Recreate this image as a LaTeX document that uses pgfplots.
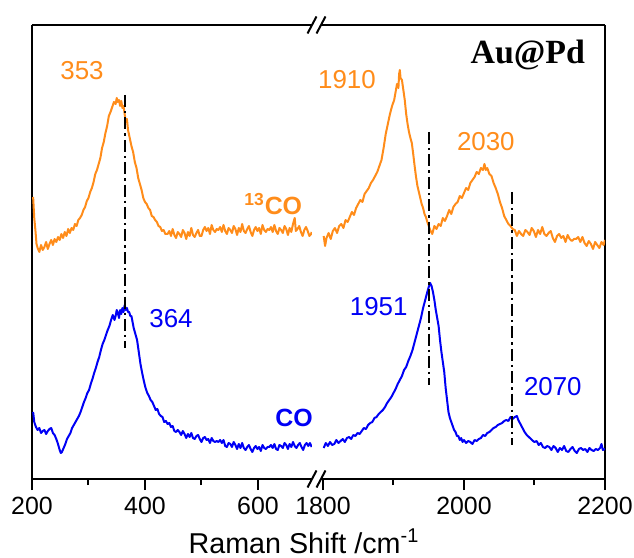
\documentclass[border=0pt]{standalone}
\usepackage{pgfplots}
\pgfplotsset{compat=1.18}
\usepackage{fontspec}
\setmainfont{Liberation Sans}
\newfontfamily\timesfont{Liberation Serif}
\definecolor{myorange}{RGB}{255,140,26}
\definecolor{myblue}{RGB}{0,0,245}
\pgfplotsset{
  brk/.style={
    scale only axis, height=227bp, ymin=9, ymax=463, ytick=\empty,
    axis x line*=bottom, tick align=outside,
    clip mode=individual,
    axis line style={line width=1bp, black},
    major tick length=5.5bp, minor tick length=3bp,
    every tick/.style={black, line width=1bp},
    ticklabel style={font=\fontsize{12.5}{15}\selectfont},
    /pgf/number format/1000 sep={},
    /pgf/number format/assume math mode=true,
    every axis plot/.append style={line width=1bp, line join=round},
  },
  ddot/.style={black, line width=1bp, dash pattern=on 6bp off 2bp on 1.2bp off 2bp},
}
\begin{document}
\begin{tikzpicture}
\useasboundingbox (-16bp,-39.5bp) rectangle (301bp,239.5bp);
% ---------------- left part ----------------
\begin{axis}[brk, width=140bp, xmin=200, xmax=695.6, axis y line*=left,
  xtick={200,400,600}, minor xtick={300,500}, at={(0,0)}, anchor=south west]
\addplot[myorange] coordinates {
(202,291)(204,270)(206,258)(208,244)
(210,240)(213,236)(216,243)(219,238)(222,241)(225,246)(228,239)(231,244)(234,248)(237,243)
(240,249)(243,246)(246,251)(249,248)(252,254)(255,250)(258,256)(261,252)(264,259)(267,255)
(270,260)(273,258)(276,264)(279,262)(282,268)(285,270)(288,273)(291,278)(294,281)(297,287)
(300,290)(303,296)(306,300)(309,306)(312,314)(315,318)(318,324)(321,330)(324,340)(327,346)
(330,355)(333,362)(336,372)(339,376)(342,381)(345,386)(348,384)(350,390)(352,386)(354,388)
(356,382)(358,387)(360,380)(362,382)(364,374)(366,366)(368,369)(370,358)(373,350)(376,342)
(379,336)(382,326)(385,320)(388,310)(391,304)(394,298)(397,290)(400,286)(403,284)(406,280)
(409,278)(412,272)(415,271)(418,268)(421,266)(424,262)(427,261)(430,257)(433,258)(436,254)
(440,254)(443,257)(446,252)(449,259)(452,253)(455,250)(458,256)(461,254)(464,251)(467,258)
(470,255)(473,249)(476,256)(479,252)(482,260)(485,253)(488,251)(491,255)(494,258)(497,252)
(500,252)(503,258)(506,261)(509,257)(512,260)(515,254)(518,263)(521,258)(524,256)(527,259)
(530,258)(533,261)(536,256)(539,263)(542,257)(545,254)(548,260)(551,258)(554,255)(557,262)
(560,259)(563,253)(566,260)(569,256)(572,264)(575,257)(578,255)(581,259)(584,262)(587,256)
(590,252)(593,258)(596,261)(599,257)(602,260)(605,254)(608,263)(611,258)(614,256)(617,259)
(620,258)(623,261)(626,256)(629,263)(632,257)(635,254)(638,260)(641,258)(644,255)(647,262)
(650,259)(653,253)(656,260)(659,256)(662,264)(665,270)(667,257)(670,259)(673,262)(676,256)
(679,252)(682,258)(685,261)(688,257)(691,252)(694,254)(695,256)
};
\addplot[myblue] coordinates {
(202,76)(204,66)(207,61)(210,58)(213,60)(216,55)(219,57)(222,58)(225,54)(228,57)
(231,59)(234,60)(237,55)(240,53)(243,49)(246,44)(249,38)(251,35)(253,36)(256,40)
(259,44)(262,49)(265,52)(268,55)(271,60)(274,63)(277,66)(280,69)(283,72)(286,76)
(289,81)(292,86)(295,90)(298,95)(301,98)(304,104)(307,109)(310,115)(313,120)(316,126)
(319,131)(322,138)(325,144)(328,148)(331,153)(334,158)(337,162)(340,168)(343,173)(346,168)
(348,172)(350,178)(352,175)(354,170)(356,178)(358,174)(360,180)(362,176)(364,183)(366,178)
(368,180)(370,176)(372,176)(374,172)(376,172)(378,166)(380,160)(383,154)(386,148)(389,136)
(392,124)(395,115)(398,107)(401,100)(404,95)(407,92)(410,88)(413,86)(416,82)(419,78)
(422,79)(425,74)(428,72)(431,71)(434,66)(437,67)
(440,64)(443,65)(446,61)(449,62)(452,57)(455,56)(458,58)(461,56)(464,53)(467,57)
(470,54)(473,50)(476,54)(479,51)(482,55)(485,50)(488,49)(491,52)(494,53)(497,49)
(500,46)(503,50)(506,51)(509,48)(512,49)(515,45)(518,50)(521,47)(524,46)(527,47)
(530,46)(533,48)(536,45)(539,48)(542,42)(545,41)(548,45)(551,44)(554,41)(557,46)
(560,43)(563,39)(566,44)(569,40)(572,45)(575,40)(578,38)(581,41)(584,43)(587,39)
(590,36)(593,40)(596,42)(599,39)(602,41)(605,37)(608,43)(611,40)(614,39)(617,41)
(620,41)(623,43)(626,40)(629,44)(632,39)(635,38)(638,43)(641,42)(644,40)(647,45)
(650,43)(653,39)(656,44)(659,41)(662,46)(665,42)(668,40)(671,43)(674,45)(677,41)
(680,38)(683,43)(686,45)(689,42)(692,45)(695,41)
};
\addplot[ddot] coordinates {(364,393)(364,140)};
\draw[line width=1bp] (rel axis cs:0,1) -- (rel axis cs:1,1);
\node[text=myorange, font=\fontsize{13}{15}\selectfont] at (axis cs:288.5,417) {353};
\node[text=myblue, font=\fontsize{13}{15}\selectfont] at (axis cs:446,169) {364};
\node[text=myorange, font=\fontsize{12.5}{15}\selectfont\bfseries] at (axis cs:627,284) {\textsuperscript{13}CO};
\node[text=myblue, font=\fontsize{12.5}{15}\selectfont\bfseries] at (axis cs:663.7,70) {CO};
\end{axis}
% ---------------- right part ----------------
\begin{axis}[brk, width=142bp, xmin=1797.2, xmax=2200, axis y line*=right,
  xtick={1800,2000,2200}, minor xtick={1900,2100}, at={(144.5bp,0)}, anchor=south west]
\addplot[myorange] coordinates {
(1801,252)(1803,242)(1805,250)(1808,255)(1811,249)(1814,257)(1817,260)(1820,255)(1823,262)(1826,264)
(1829,260)(1832,268)(1835,266)(1838,271)(1841,276)(1844,273)(1847,280)(1850,284)(1853,288)(1856,286)
(1859,294)(1862,297)(1865,300)(1868,305)(1871,308)(1874,312)(1877,316)(1880,322)(1883,328)(1886,340)
(1889,354)(1892,364)(1895,374)(1898,382)(1901,388)(1903,396)(1905,404)(1907,400)(1908,414)(1909,418)
(1910,410)(1912,408)(1914,398)(1916,388)(1918,374)(1920,364)(1922,356)(1924,350)(1926,345)(1928,334)
(1930,322)(1932,311)(1934,302)(1936,296)(1938,290)(1940,284)(1942,280)(1944,274)(1946,271)(1948,266)
(1950,262)(1952,258)(1955,254)(1958,262)(1961,259)(1964,264)(1967,262)(1970,270)(1973,267)(1976,272)
(1979,278)(1982,274)(1985,281)(1988,284)(1991,286)(1994,292)(1997,290)(2000,295)(2003,300)(2006,298)
(2009,305)(2012,308)(2015,311)(2018,316)(2021,314)(2024,320)(2027,318)(2029,324)(2031,318)(2033,320)
(2036,314)(2039,312)(2042,305)(2045,300)(2048,294)(2051,286)(2054,280)(2057,272)(2060,268)(2063,264)
(2066,262)(2069,259)(2072,258)(2075,252)(2078,257)(2081,254)(2084,252)(2087,258)(2090,256)(2093,253)
(2096,260)(2099,257)(2102,251)(2105,258)(2108,254)(2111,261)(2114,254)(2117,252)(2120,255)(2123,257)
(2126,250)(2129,246)(2132,252)(2135,254)(2138,250)(2141,252)(2144,246)(2147,253)(2150,249)(2153,247)
(2156,249)(2159,249)(2162,251)(2165,246)(2168,251)(2171,245)(2174,242)(2177,247)(2180,244)(2183,239)
(2186,246)(2189,243)(2192,240)(2195,246)(2198,243)(2200,248)
};
\addplot[myblue] coordinates {
(1801,40)(1804,45)(1807,42)(1810,46)(1813,43)(1816,44)(1819,48)(1822,45)(1825,47)(1828,49)
(1831,46)(1834,50)(1837,51)(1840,49)(1843,53)(1846,52)(1849,55)(1852,54)(1855,57)(1858,60)
(1861,59)(1864,63)(1867,65)(1870,66)(1873,70)(1876,71)(1879,74)(1882,76)(1885,78)(1888,81)
(1891,85)(1894,88)(1897,91)(1900,95)(1903,99)(1906,104)(1909,108)(1912,112)(1915,118)(1918,121)
(1921,127)(1924,132)(1927,138)(1930,146)(1933,154)(1936,162)(1939,170)(1942,180)(1945,188)(1948,196)
(1950,201)(1952,205)(1954,202)(1956,196)(1958,188)(1960,178)(1962,170)(1964,162)(1966,148)(1968,136)
(1970,126)(1972,116)(1974,100)(1976,88)(1978,76)(1980,70)(1982,66)(1984,62)(1986,58)(1988,56)
(1990,52)(1992,52)(1994,48)(1996,50)(1998,46)
(2000,48)(2003,45)(2006,47)(2009,46)(2012,44)(2015,48)(2018,47)(2021,49)(2024,50)(2027,53)
(2030,52)(2033,55)(2036,56)(2039,58)(2042,60)(2045,61)(2048,63)(2051,64)(2054,65)(2057,67)
(2060,68)(2063,67)(2066,71)(2069,69)(2072,71)(2075,72)(2077,68)(2080,64)(2083,60)(2086,56)
(2089,53)(2092,51)(2095,49)(2098,47)
(2100,46)(2103,47)(2106,43)(2109,45)(2112,41)(2115,40)(2118,42)(2121,41)(2124,38)(2127,42)
(2130,40)(2133,36)(2136,40)(2139,38)(2142,42)(2145,37)(2148,36)(2151,39)(2154,41)(2157,37)
(2160,35)(2163,39)(2166,40)(2169,38)(2172,39)(2175,36)(2178,40)(2181,38)(2184,37)(2187,39)
(2190,38)(2193,40)(2195,44)(2197,38)(2200,39)
};
\addplot[ddot] coordinates {(1951,356)(1951,103)};
\addplot[ddot] coordinates {(2068,296)(2068,43)};
\draw[line width=1bp] (rel axis cs:0,1) -- (rel axis cs:1,1);
\node[text=myorange, font=\fontsize{13}{15}\selectfont] at (axis cs:1834,408) {1910};
\node[text=myorange, font=\fontsize{13}{15}\selectfont] at (axis cs:2031,346) {2030};
\node[text=myblue, font=\fontsize{13}{15}\selectfont] at (axis cs:1879,181) {1951};
\node[text=myblue, font=\fontsize{13}{15}\selectfont] at (axis cs:2126,101) {2070};
\node[anchor=east, font=\fontsize{17}{20}\selectfont\timesfont\bfseries] at (axis cs:2181.6,433) {Au@Pd};
\end{axis}
% break marks
\foreach \cx in {140bp,144.5bp}{
  \draw[line width=1bp] ([xshift=\cx]-2.25bp,-4.25bp) -- ([xshift=\cx]2.25bp,4.25bp);
  \draw[line width=1bp] ([xshift=\cx]-2.25bp,222.75bp) -- ([xshift=\cx]2.25bp,231.25bp);
}
\node[anchor=base, font=\fontsize{14.4}{17}\selectfont] at (136bp,-37bp) {Raman Shift /cm\textsuperscript{-1}};
\end{tikzpicture}
\end{document}
